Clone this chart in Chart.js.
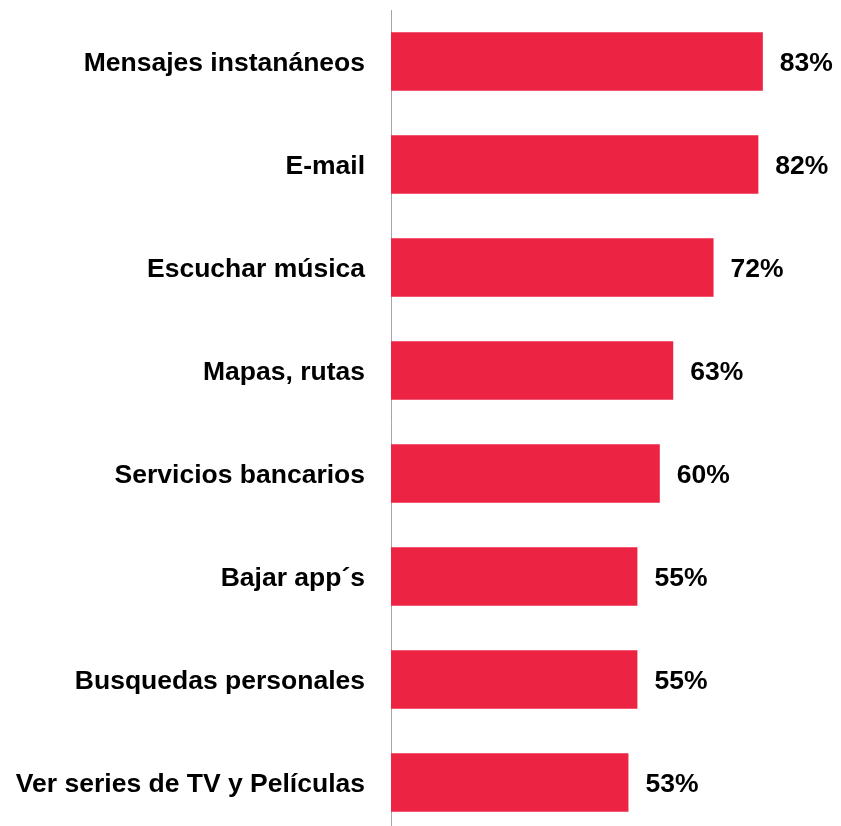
<!DOCTYPE html>
<html>
<head>
<meta charset="utf-8">
<script src="https://cdn.jsdelivr.net/npm/chart.js@4/dist/chart.umd.min.js"></script>
<style>
  html, body { margin: 0; padding: 0; background: #fff; overflow: hidden; }
  #wrap { position: relative; width: 841px; height: 834px; }
</style>
</head>
<body>
<div id="wrap"><canvas id="myChart"></canvas></div>
<script>
// data
const categories = [
  'Mensajes instanáneos',
  'E-mail',
  'Escuchar música',
  'Mapas, rutas',
  'Servicios bancarios',
  'Bajar app´s',
  'Busquedas personales',
  'Ver series de TV y Películas'
];
const values = [83, 82, 72, 63, 60, 55, 55, 53];
const valueLabels = ['83%', '82%', '72%', '63%', '60%', '55%', '55%', '53%'];

const barColor = '#EC2343';
const fontFamily = '"Liberation Sans", Arial, sans-serif';

// draws the % labels right of each bar
const valueLabelPlugin = {
  id: 'valueLabels',
  afterDatasetsDraw(chart) {
    const ctx = chart.ctx;
    const meta = chart.getDatasetMeta(0);
    ctx.save();
    ctx.font = 'bold 26.5px ' + fontFamily;
    ctx.fillStyle = '#000';
    ctx.textAlign = 'left';
    ctx.textBaseline = 'middle';
    meta.data.forEach((bar, i) => {
      ctx.fillText(valueLabels[i], bar.x + 17, bar.y + 2);
    });
    ctx.restore();
  }
};

document.addEventListener('DOMContentLoaded', () => {
  const ctx = document.getElementById('myChart').getContext('2d');

  new Chart(ctx, {
    type: 'bar',
    data: {
      labels: categories,
      datasets: [{
        data: values,
        backgroundColor: barColor,
        borderWidth: 0,
        categoryPercentage: 1,
        barPercentage: 0.57
      }]
    },
    options: {
      indexAxis: 'y',
      responsive: true,
      maintainAspectRatio: false,
      animation: false,
      layout: { padding: { top: 10, right: 2, bottom: 0, left: 0 } },
      scales: {
        x: {
          display: false,
          min: 0,
          max: 100
        },
        y: {
          grid: { display: true, color: 'transparent', drawTicks: false },
          border: { display: true, color: '#A6A6A6', width: 1 },
          ticks: {
            color: '#000',
            padding: 26,
            labelOffset: 2,
            font: { family: fontFamily, size: 26.5, weight: 'bold' }
          },
          afterFit(scale) {
            scale.width = 391;
            scale.paddingTop = 0;
            scale.paddingBottom = 0;
          }
        }
      },
      plugins: {
        legend: { display: false },
        tooltip: { enabled: false }
      }
    },
    plugins: [valueLabelPlugin]
  });
});
</script>
</body>
</html>
